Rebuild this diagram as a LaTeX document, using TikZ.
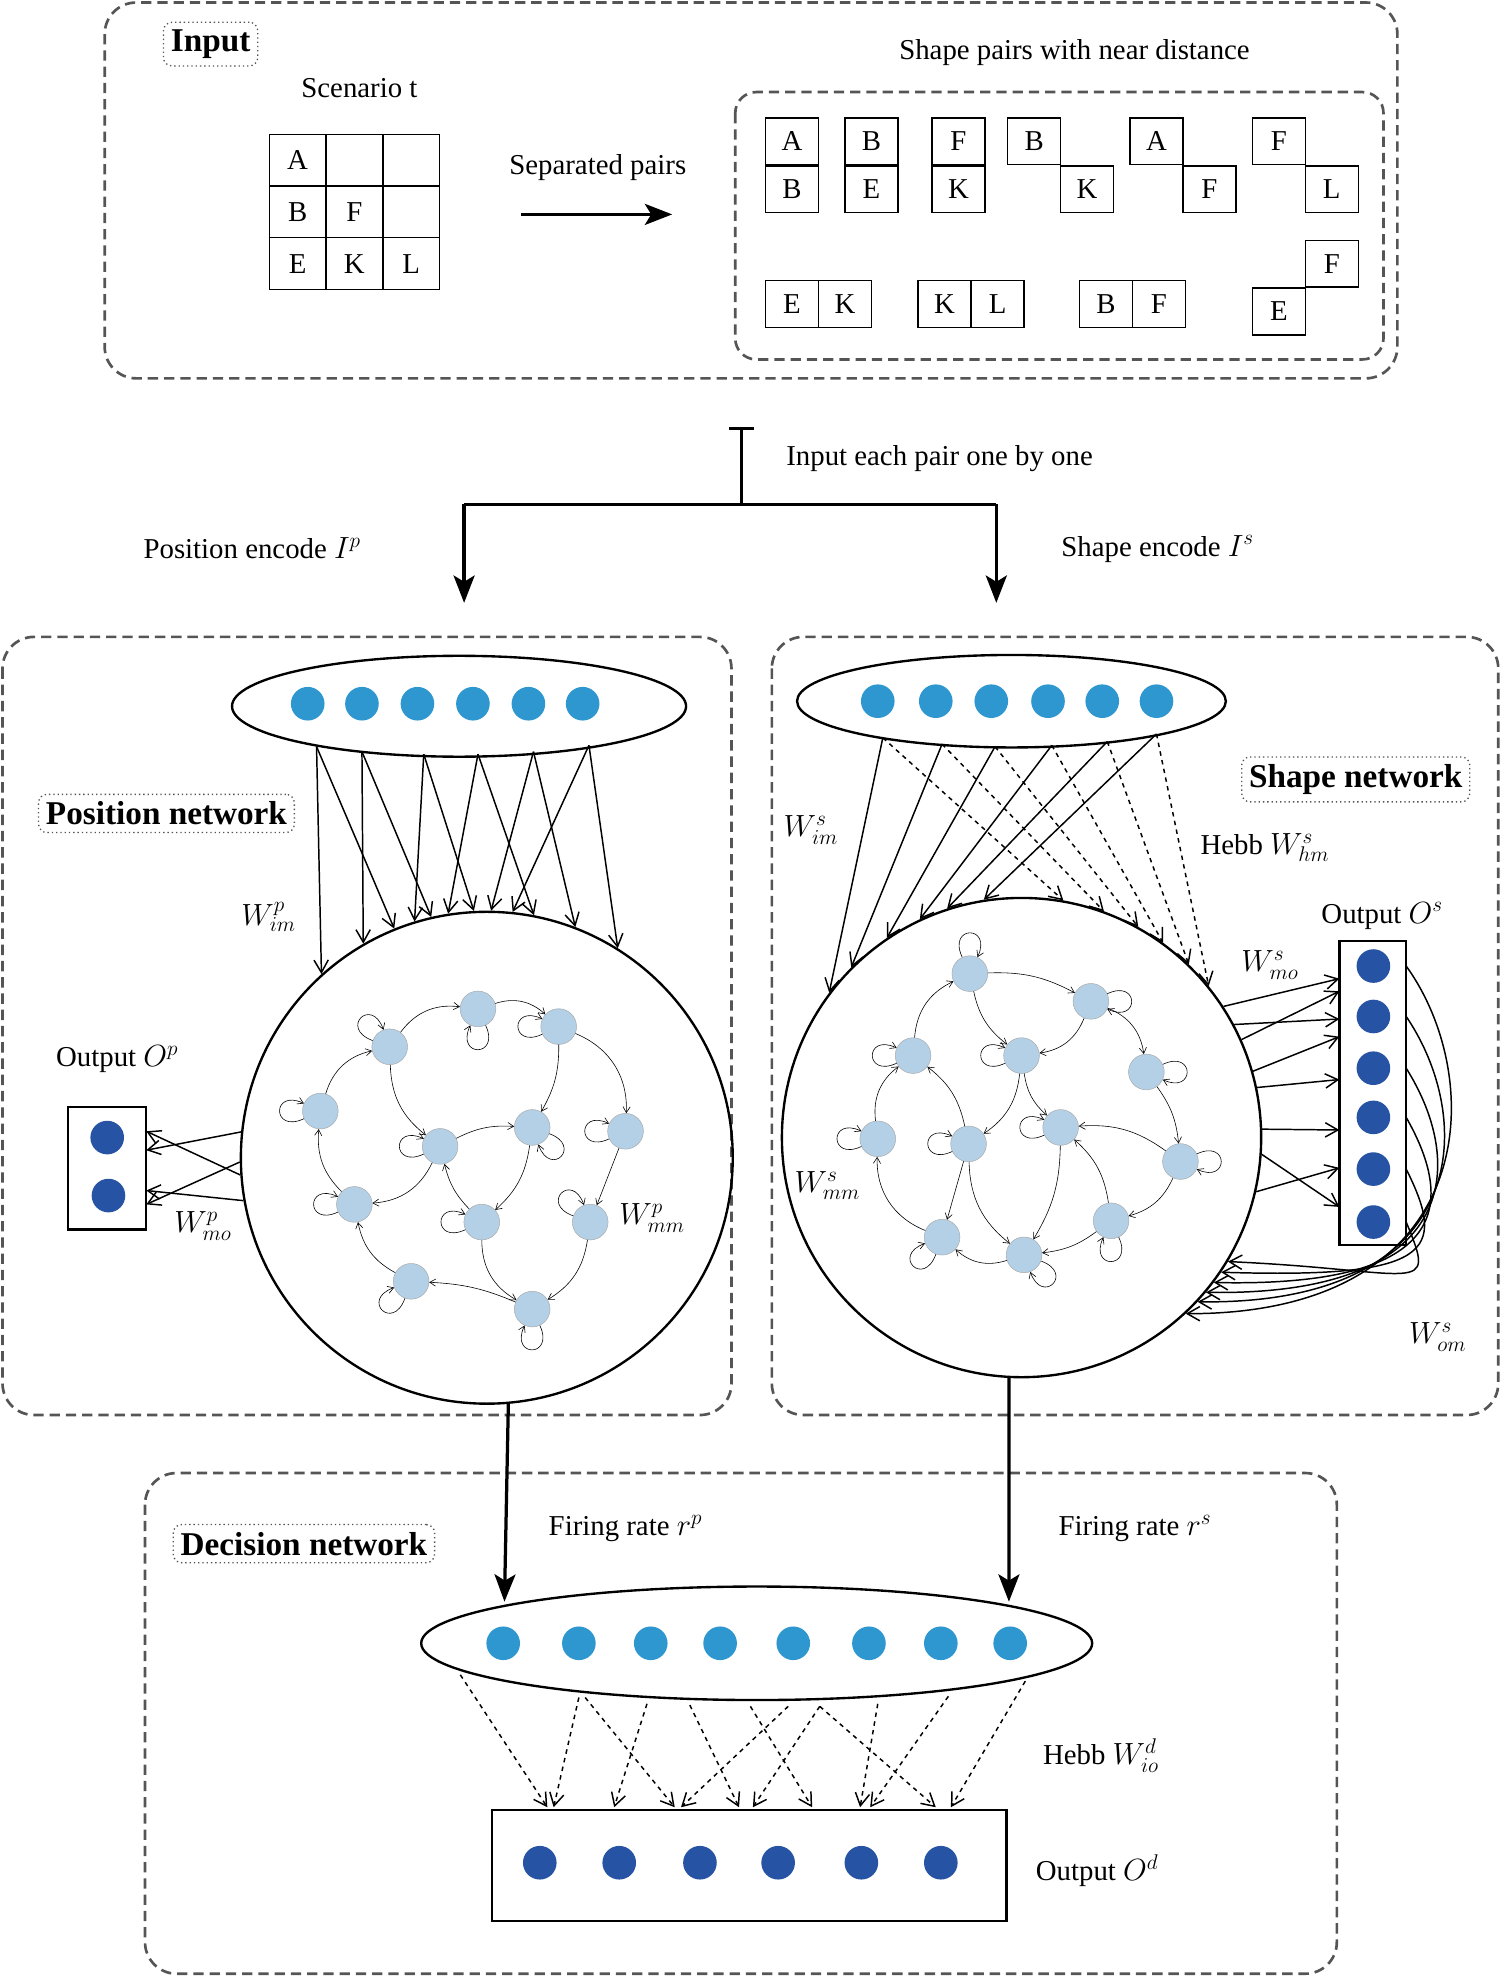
\documentclass[tikz,border=0pt]{standalone}
\usepackage{fontspec}
\setmainfont{Liberation Serif}
\usetikzlibrary{shapes.geometric,arrows.meta,calc}
\definecolor{dotL}{HTML}{2E97CF}
\definecolor{dotD}{HTML}{2653A3}
\definecolor{rn}{HTML}{B4D0E6}
\definecolor{dash}{HTML}{555555}
\begin{document}
\begin{tikzpicture}[x=0.03cm,y=-0.03cm,font=\fontsize{19.5}{23}\selectfont,
 bigbox/.style={draw=dash,line width=1.8pt,dash pattern=on 7pt off 4pt,rounded corners=0.75cm},
 tagbox/.style={draw=dash,dotted,line width=0.9pt,rounded corners=0.2cm,inner sep=5pt,font=\fontsize{22.5}{26}\selectfont\bfseries},
 cell/.style={draw,line width=1pt,minimum width=1.35cm,minimum height=1.23cm,inner sep=0pt},
 pcell/.style={draw,line width=1pt,minimum width=1.26cm,minimum height=1.11cm,inner sep=0pt},
 ldot/.style={circle,fill=dotL,minimum size=0.8cm,inner sep=0pt},
 ddot/.style={circle,fill=dotD,minimum size=0.8cm,inner sep=0pt},
 rnode/.style={circle,fill=rn,draw=gray!70,line width=0.3pt,minimum size=0.85cm,inner sep=0pt},
 thick arrow/.style={line width=2.2pt,-{Stealth[length=6.5mm,width=5mm,inset=1.5mm]}},
 fan/.style={line width=1pt,-{Straight Barb[length=3mm,width=3.4mm]}},
 dfan/.style={fan,dashed},
 re/.style={line width=0.4pt,-{Straight Barb[length=1.4mm,width=1.7mm]}},
 sl/.style={re,min distance=5mm,looseness=6}]
\useasboundingbox (0,0) rectangle (1190,1570);
% ---------- Input ----------
\draw[bigbox] (83,2) rectangle (1108,300);
\node[tagbox] (inp) at (167,35) {Input};
\node (scen) at (285,70) {Scenario t};
\foreach \x/\cx in {1/236,2/281,3/326}{\foreach \y/\cy in {1/127,2/168,3/209}{\node[cell] (g\x\y) at (\cx,\cy) {};}}
\node at (g11) {A}; \node at (g12) {B}; \node at (g22) {F};
\node at (g13) {E}; \node at (g23) {K}; \node at (g33) {L};
\coordinate (sa) at (413,170); \coordinate (sb) at (533,170);
\draw[thick arrow] (sa) -- (sb);
\node (sep) at (474,133) {Separated pairs};
\node (shp) at (852,42) {Shape pairs with near distance};
\draw[bigbox,rounded corners=0.5cm] (583,73) rectangle (1097,285);
\foreach \t/\x/\y in {A/628/112,B/628/150,B/691/112,E/691/150,F/760/112,K/760/150,B/820/112,K/862/150,A/917/112,F/959/150,F/1014/112,L/1056/150,E/628/241,K/670/241,K/749/241,L/791/241,B/877/241,F/919/241,F/1056/209,E/1014/247}
 {\node[pcell] at (\x,\y) {\t};}
% ---------- split ----------
\coordinate (t1) at (578,340); \coordinate (t2) at (598,340); \coordinate (tm) at (588,340);
\coordinate (bm) at (588,400); \coordinate (bl) at (368,400); \coordinate (br) at (790,400);
\coordinate (al) at (368,478); \coordinate (ar) at (790,478);
\draw[line width=2.2pt] (t1) -- (t2) (tm) -- (bm) (bl) -- (br);
\draw[thick arrow] (bl) -- (al);
\draw[thick arrow] (br) -- (ar);
\node (each) at (745,364) {Input each pair one by one};
\node (pe) at (200,435) {Position encode $I^{p}$};
\node (se) at (918,435) {Shape encode $I^{s}$};
% ---------- Position network ----------
\draw[bigbox] (2,505) rectangle (580,1122);
\node[ellipse,draw,line width=1.6pt,minimum width=10.8cm,minimum height=2.4cm] (LE) at (364,560) {};
\foreach \i/\x in {1/244,2/287,3/331,4/375,5/419,6/462}{\node[ldot] (le\i) at (\x,558) {};}
\node[circle,draw,line width=1.6pt,minimum size=11.7cm,inner sep=0pt] (LC) at (386,918) {};
\node[tagbox] (pn) at (132,645) {Position network};
\foreach \sx/\sy/\a/\b in {251/592/132.8/112.9,287/596/120.3/103.7,336/598/107.5/93.3,379/598/99.7/79.7,423/596/89.7/69,467/591/84/58.6}{
 \coordinate (s) at (\sx,\sy);
 \draw[fan] (s) -- (LC.\a); \draw[fan] (s) -- (LC.\b);}
\node (wimp) at (213,727) {$W^{p}_{im}$};
\node (outp) at (93,840) {Output $O^{p}$};
\draw[line width=1.6pt] (54,878) rectangle (116,975);
\node[ddot] (lo1) at (85,902) {}; \node[ddot] (lo2) at (86,948) {};
\foreach \a/\y in {174.9/912,181.5/955,184.5/897,190/944}{\coordinate (t) at (116,\y); \draw[fan] (LC.\a) -- (t);}
\node (wmop) at (161,972) {$W^{p}_{mo}$};
\node (wmmp) at (517,966) {$W^{p}_{mm}$};
% recurrent left
\foreach \i/\x/\y in {1/379/800,2/309/830,3/443/814,4/254/881,5/349/909,6/422/894,7/496/897,8/281/955,9/382/969,10/468/969,11/326/1016,12/422/1038}{\node[rnode] (p\i) at (\x,\y) {};}
\draw[re] (p2) to[bend left=30] (p1);
\draw[re] (p1) to[bend left=30] (p3);
\draw[re] (p3) to[bend left=15] (p6);
\draw[re] (p3) to[bend left=35] (p7);
\draw[re] (p4) to[bend left=30] (p2);
\draw[re] (p2) to[bend right=25] (p5);
\draw[re] (p5) to[bend left=15] (p6);
\draw[re] (p5) to[bend left=30] (p8);
\draw[re] (p8) to[bend left=25] (p4);
\draw[re] (p6) to[bend left=20] (p9);
\draw[re] (p9) to[bend left=15] (p5);
\draw[re] (p7) -- (p10);
\draw[re] (p9) to[bend right=30] (p12);
\draw[re] (p10) to[bend left=25] (p12);
\draw[re] (p12) to[bend right=10] (p11);
\draw[re] (p11) to[bend left=25] (p8);
\foreach \n/\d in {p1/270,p2/135,p3/180,p4/180,p5/180,p6/315,p7/180,p8/180,p9/180,p10/135,p11/225,p12/270}{\draw[sl] (\n) to[out=\d+25,in=\d-25] (\n);}
% ---------- Shape network ----------
\draw[bigbox] (612,505) rectangle (1188,1122);
\node[ellipse,draw,line width=1.6pt,minimum width=10.2cm,minimum height=2.2cm] (RE) at (802,556) {};
\foreach \i/\x in {1/696,2/742,3/786,4/831,5/874,6/917}{\node[ldot] (re\i) at (\x,556) {};}
\node[circle,draw,line width=1.6pt,minimum size=11.4cm,inner sep=0pt] (RC) at (810,902) {};
\node[tagbox] (sn) at (1075,618) {Shape network};
\foreach \sx/\sy/\a/\b in {700/585/143.9/80.8,747/590/135/70.1,789/592/124/61.7,834/591/115.9/54.2,878/588/108.3/46.7,917/582/99.5/39}{
 \coordinate (s) at (\sx,\sy);
 \draw[fan] (s) -- (RC.\a); \draw[dfan] (s) -- (RC.\b);}
\node (wims) at (643,658) {$W^{s}_{im}$};
\node (hebbs) at (1003,672) {Hebb $W^{s}_{hm}$};
\node (outs) at (1096,726) {Output $O^{s}$};
\node (wmos) at (1007,765) {$W^{s}_{mo}$};
\draw[line width=1.6pt] (1062,746) rectangle (1115,987);
\foreach \i/\y in {0/766,1/806,2/847,3/886,4/927,5/969}{\node[ddot] (ro\i) at (1089,\y) {};}
\foreach \a/\y in {33.9/776,24.5/786,28.6/808,16.7/822,12.3/856,2.4/896,-13.2/926,-4/957}{\coordinate (t) at (1062,\y); \draw[fan] (RC.\a) -- (t);}
\foreach \k/\y/\a in {0/766/-47.5,1/806/-43.1,2/847/-40.5,3/886/-37.7,4/927/-34.8,5/969/-31.7}{
 \coordinate (fs) at (1115,\y);
 \draw[fan] (fs) .. controls ({1180-8*\k},{\y+90-6*\k}) and ({1175-10*\k},{1042-7*\k}) .. (RC.\a);}
\node (wmms) at (656,940) {$W^{s}_{mm}$};
\node (woms) at (1140,1060) {$W^{s}_{om}$};
% recurrent right
\foreach \i/\x/\y in {1/769/772,2/865/794,3/724/837,4/810/837,5/909/850,6/696/903,7/768/907,8/841/894,9/936/921,10/747/981,11/881/968,12/812/995}{\node[rnode] (q\i) at (\x,\y) {};}
\draw[re] (q1) to[bend left=15] (q2);
\draw[re] (q3) to[bend left=30] (q1);
\draw[re] (q2) to[bend left=30] (q5);
\draw[re] (q2) to[bend left=30] (q4);
\draw[re] (q1) to[bend right=20] (q4);
\draw[re] (q4) to[bend right=20] (q8);
\draw[re] (q6) to[bend left=30] (q3);
\draw[re] (q5) to[bend left=15] (q9);
\draw[re] (q9) to[bend right=20] (q8);
\draw[re] (q4) to[bend left=25] (q7);
\draw[re] (q7) to[bend right=20] (q3);
\draw[re] (q10) to[bend left=35] (q6);
\draw[re] (q7) -- (q10);
\draw[re] (q7) to[bend right=25] (q12);
\draw[re] (q8) to[bend left=15] (q12);
\draw[re] (q11) to[bend left=15] (q12);
\draw[re] (q11) to[bend right=20] (q8);
\draw[re] (q9) to[bend left=25] (q11);
\draw[re] (q12) to[bend left=30] (q10);
\foreach \n/\d in {q1/90,q2/0,q3/180,q4/180,q5/0,q6/180,q7/180,q8/180,q9/0,q10/225,q11/270,q12/315}{\draw[sl] (\n) to[out=\d+25,in=\d-25] (\n);}
% ---------- Decision network ----------
\draw[bigbox] (115,1168) rectangle (1060,1565);
\node[tagbox] (dn) at (241,1224) {Decision network};
\node[ellipse,draw,line width=1.6pt,minimum width=15.96cm,minimum height=2.7cm] (DE) at (600,1303) {};
\foreach \i/\x in {1/399,2/459,3/516,4/571,5/629,6/689,7/746,8/801}{\node[ldot] (de\i) at (\x,1303) {};}
\coordinate (fl) at (400,1270); \coordinate (fr) at (800,1270);
\draw[thick arrow] (LC.-85.9) -- (fl);
\draw[thick arrow] (RC.-93) -- (fr);
\node (frp) at (496,1212) {Firing rate $r^{p}$};
\node (frs) at (900,1212) {Firing rate $r^{s}$};
\draw[line width=1.6pt] (390,1435) rectangle (798,1523);
\foreach \i/\x in {1/428,2/491,3/555,4/617,5/683,6/746}{\node[ddot] (do\i) at (\x,1477) {};}
\foreach \sx/\sy/\tx in {365/1328/434,459/1346/439,464/1346/535,513/1351/487,547/1352/586,595/1353/644,625/1353/540,650/1353/597,650/1353/742,696/1351/682,752/1345/690,813/1333/754}{
 \coordinate (s) at (\sx,\sy); \coordinate (t) at (\tx,1433);
 \draw[dfan] (s) -- (t);}
\node (hebbd) at (873,1392) {Hebb $W^{d}_{io}$};
\node (outd) at (870,1483) {Output $O^{d}$};
\end{tikzpicture}
\end{document}
